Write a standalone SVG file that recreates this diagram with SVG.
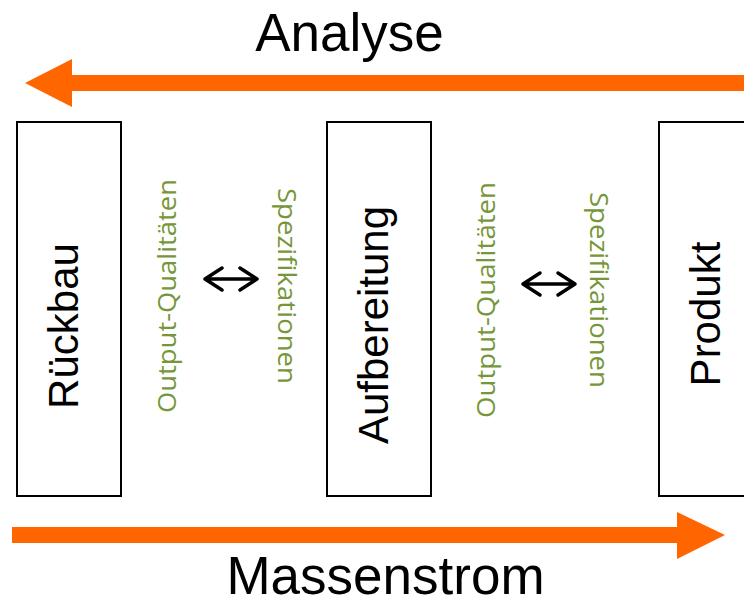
<svg xmlns="http://www.w3.org/2000/svg" width="744" height="600" viewBox="0 0 744 600">
<style>
.box{fill:#fff;stroke:#000;stroke-width:2}
.lbl{font-family:"Liberation Sans",Arial,sans-serif;font-size:42px;fill:#000;text-anchor:middle}
.big{font-family:"Liberation Sans",Arial,sans-serif;font-size:53px;fill:#000;text-anchor:middle}
.grn{font-family:"Open Sans",Lato,sans-serif;font-size:26px;fill:#76963A;text-anchor:middle}
.flow{fill:#FF6600}
.dbl{fill:none;stroke:#000;stroke-width:3.5;stroke-linecap:round;stroke-linejoin:round}
</style>
<rect width="744" height="600" fill="#fff"/>
<g id="connectors">
<polygon class="flow" points="746,75 72,75 72,59 25,83 72,107 72,91 746,91"/>
<polygon class="flow" points="12,527 677,527 677,512 725,535 677,559 677,543 12,543"/>
<g id="exchange1" class="dbl">
<path d="M205,279 H257 M222,268 L205,279 L222,290 M240,268 L257,279 L240,290"/>
</g>
<g id="exchange2" class="dbl">
<path d="M523,284 H575 M540,273 L523,284 L540,295 M558,273 L575,284 L558,295"/>
</g>
</g>
<g id="title-analyse"><text class="big" x="349.5" y="51">Analyse</text></g>
<g id="title-massenstrom"><text class="big" x="385.5" y="594">Massenstrom</text></g>
<g id="node-rueckbau">
<rect class="box" x="17" y="122" width="104" height="374"/>
<text class="lbl" transform="translate(78,326) rotate(-90)">Rückbau</text>
</g>
<g id="node-aufbereitung">
<rect class="box" x="327" y="122" width="104" height="374"/>
<text class="lbl" transform="translate(388,325) rotate(-90)">Aufbereitung</text>
</g>
<g id="node-produkt">
<rect class="box" x="659" y="122" width="100" height="374"/>
<text class="lbl" transform="translate(720,314) rotate(-90)">Produkt</text>
</g>
<g id="label-oq1"><text class="grn" transform="translate(176,296) rotate(-90)" textLength="234" lengthAdjust="spacingAndGlyphs">Output-Qualitäten</text></g>
<g id="label-spez1"><text class="grn" transform="translate(278,286) rotate(90)" textLength="196" lengthAdjust="spacingAndGlyphs">Spezifikationen</text></g>
<g id="label-oq2"><text class="grn" transform="translate(495,300) rotate(-90)" textLength="236" lengthAdjust="spacingAndGlyphs">Output-Qualitäten</text></g>
<g id="label-spez2"><text class="grn" transform="translate(590,290) rotate(90)" textLength="196" lengthAdjust="spacingAndGlyphs">Spezifikationen</text></g>
</svg>
